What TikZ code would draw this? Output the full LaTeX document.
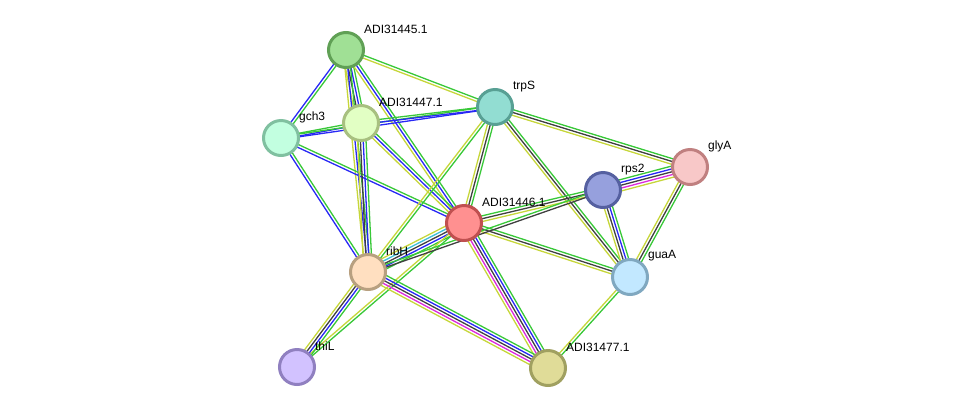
\documentclass[tikz,border=0pt]{standalone}
\usepackage{fontspec}
\setmainfont{Liberation Sans}
\usetikzlibrary{calc, backgrounds}
% evidence channels
\definecolor{sgreen}{RGB}{56,200,56}
\definecolor{sblue}{RGB}{40,40,245}
\definecolor{sblack}{RGB}{64,64,64}
\definecolor{syellow}{RGB}{198,214,58}
\definecolor{smag}{RGB}{220,40,220}
\definecolor{scyan}{RGB}{60,190,215}
% protein fill / border
\definecolor{f45}{RGB}{160,224,149}\definecolor{d45}{RGB}{96,160,85}
\definecolor{ftrps}{RGB}{146,221,210}\definecolor{dtrps}{RGB}{88,160,148}
\definecolor{f47}{RGB}{226,255,196}\definecolor{d47}{RGB}{168,192,128}
\definecolor{fgch}{RGB}{194,255,224}\definecolor{dgch}{RGB}{128,192,160}
\definecolor{fgly}{RGB}{248,200,200}\definecolor{dgly}{RGB}{192,128,128}
\definecolor{frps}{RGB}{150,160,221}\definecolor{drps}{RGB}{85,96,160}
\definecolor{f46}{RGB}{255,144,144}\definecolor{d46}{RGB}{192,80,80}
\definecolor{frib}{RGB}{255,223,192}\definecolor{drib}{RGB}{184,160,128}
\definecolor{fgua}{RGB}{194,232,255}\definecolor{dgua}{RGB}{128,168,192}
\definecolor{fthi}{RGB}{210,194,255}\definecolor{dthi}{RGB}{144,128,192}
\definecolor{f77}{RGB}{224,220,152}\definecolor{d77}{RGB}{160,160,96}
\tikzset{
  prot/.style 2 args={circle, minimum size=35bp, inner sep=0pt, line width=3bp, draw=#1, fill=#2},
  lbl/.style={anchor=west, inner sep=0pt, xshift=4.5bp, yshift=7.5bp, font=\fontsize{12bp}{14bp}\selectfont},
  evid/.style={line width=1.3bp}
}
% one coloured line per evidence channel, side by side
\newcommand{\bundle}[3]{%
  \foreach \c [count=\i] in {#3} {\xdef\nlines{\i}}%
  \foreach \c [count=\i] in {#3} {%
    \pgfmathsetmacro{\off}{(\i-(\nlines+1)/2)*2.8}%
    \draw[evid, color=\c] ($(#1.center)!\off bp!90:(#2.center)$) -- ($(#2.center)!\off bp!-90:(#1.center)$);
  }%
}

\begin{document}
\begin{tikzpicture}[x=1bp, y=-1bp]
  \useasboundingbox (0,0) rectangle (975,414);
  % proteins
  \node[prot={d45}{f45}, label={[lbl]45:ADI31445.1}] (n45) at (346,50) {};
  \node[prot={dtrps}{ftrps}, label={[lbl]45:trpS}] (trps) at (495,107) {};
  \node[prot={d47}{f47}, label={[lbl]45:ADI31447.1}] (n47) at (361,123) {};
  \node[prot={dgch}{fgch}, label={[lbl]45:gch3}] (gch3) at (281,138) {};
  \node[prot={dgly}{fgly}, label={[lbl]45:glyA}] (glya) at (690,167) {};
  \node[prot={drps}{frps}, label={[lbl]45:rps2}] (rps2) at (603,190) {};
  \node[prot={d46}{f46}, label={[lbl]45:ADI31446.1}] (n46) at (464,223) {};
  \node[prot={drib}{frib}, label={[lbl]45:ribH}] (ribh) at (368,272) {};
  \node[prot={dgua}{fgua}, label={[lbl]45:guaA}] (guaa) at (630,277) {};
  \node[prot={dthi}{fthi}, label={[lbl]45:thiL}] (thil) at (297,367) {};
  \node[prot={d77}{f77}, label={[lbl]45:ADI31477.1}] (n77) at (548,368) {};
  % interactions
  \begin{pgfonlayer}{background}
    \bundle{n45}{gch3}{sblue,sgreen}
    \bundle{n45}{n47}{syellow,sblack,sblue,sgreen}
    \bundle{n45}{ribh}{syellow,sblue,sgreen}
    \bundle{n45}{trps}{syellow,sgreen}
    \bundle{n45}{n46}{syellow,sblue,sgreen}
    \bundle{gch3}{n47}{sblue,sgreen}
    \bundle{gch3}{trps}{sblue,sgreen}
    \bundle{gch3}{n46}{sblue,sgreen}
    \bundle{gch3}{ribh}{sblue,sgreen}
    \bundle{n47}{trps}{sblue,sgreen}
    \bundle{n47}{n46}{syellow,sblue,sgreen}
    \bundle{n47}{ribh}{syellow,sblack,sblue,sgreen}
    \bundle{trps}{n46}{syellow,sblack,sgreen}
    \bundle{trps}{ribh}{syellow,sgreen}
    \bundle{trps}{glya}{syellow,sblack,sgreen}
    \bundle{trps}{guaa}{syellow,sblack,sgreen}
    \bundle{n46}{rps2}{syellow,sblack,sgreen}
    \bundle{n46}{guaa}{syellow,sblack,sgreen}
    \bundle{n46}{ribh}{syellow,scyan,sblack,sblue,sgreen}
    \bundle{n46}{n77}{syellow,smag,sblack,sblue,sgreen}
    \bundle{n46}{thil}{syellow,sgreen}
    \bundle{rps2}{glya}{syellow,smag,sblack,sblue,sgreen}
    \bundle{rps2}{guaa}{syellow,sblack,sblue,sgreen}
    \bundle{glya}{guaa}{syellow,sblack,sgreen}
    \bundle{ribh}{rps2}{sblack,sgreen}
    \bundle{ribh}{thil}{syellow,sblack,sblue,sgreen}
    \bundle{ribh}{n77}{syellow,smag,sblack,sblue,sgreen}
    \bundle{guaa}{n77}{syellow,sgreen}
  \end{pgfonlayer}
\end{tikzpicture}
\end{document}
